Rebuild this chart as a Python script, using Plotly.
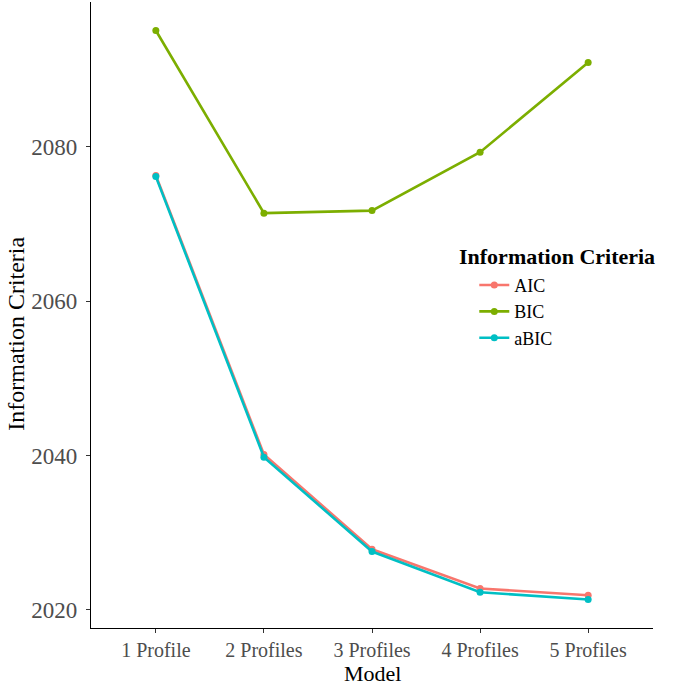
import plotly.graph_objects as go

models = ["1 Profile", "2 Profiles", "3 Profiles", "4 Profiles", "5 Profiles"]
aic = [2076.28, 2040.13, 2027.85, 2022.77, 2021.90]
bic = [2095.05, 2071.39, 2071.72, 2079.28, 2090.91]
abic = [2076.12, 2039.78, 2027.55, 2022.29, 2021.34]
series_names = ["AIC", "BIC", "aBIC"]
colors = ["#F8766D", "#7CAE00", "#00BFC4"]
y_ticks = [2020, 2040, 2060, 2080]

FONT = "Liberation Serif"
fig = go.Figure()
for name, vals, col in zip(series_names, [aic, bic, abic], colors):
    fig.add_trace(go.Scatter(
        x=models, y=vals, name=name, mode="lines+markers",
        line=dict(color=col, width=2.6),
        marker=dict(color=col, size=7),
    ))

# legend title
fig.add_annotation(
    text="<b>Information Criteria</b>", xref="paper", yref="paper",
    x=0.652, y=0.593, xanchor="left", yanchor="middle", showarrow=False,
    font=dict(family=FONT, size=22, color="black"),
)
# y-axis title
fig.add_annotation(
    text="Information Criteria", xref="paper", yref="paper",
    x=-0.1335, y=0.47, xanchor="center", yanchor="middle", showarrow=False,
    textangle=-90, font=dict(family=FONT, size=24, color="black"),
)
# x-axis title
fig.add_annotation(
    text="Model", xref="paper", yref="paper",
    x=0.5, y=-0.0733, xanchor="center", yanchor="middle", showarrow=False,
    font=dict(family=FONT, size=22, color="black"),
)

fig.update_layout(
    width=688, height=686,
    margin=dict(l=91, r=35, t=2, b=58, autoexpand=False),
    plot_bgcolor="white", paper_bgcolor="white",
    font=dict(family=FONT, size=18, color="black"),
    legend=dict(
        font=dict(family=FONT, size=18, color="black"),
        x=0.682, xanchor="left", y=0.577, yanchor="top",
        itemwidth=30, tracegroupgap=0, bgcolor="rgba(0,0,0,0)",
    ),
    xaxis=dict(
        range=[-0.6, 4.6], showline=True, linecolor="black", linewidth=1.2,
        ticks="outside", ticklen=4, tickcolor="#333333",
        tickfont=dict(family=FONT, size=20, color="#4D4D4D"),
        showgrid=False, zeroline=False, automargin=False,
    ),
    yaxis=dict(
        range=[2017.65, 2098.74], showline=True, linecolor="black", linewidth=1.2,
        ticks="outside", ticklen=4, tickcolor="#333333",
        tickvals=y_ticks, ticktext=[str(v) for v in y_ticks],
        tickfont=dict(family=FONT, size=23, color="#4D4D4D"),
        ticklabelstandoff=4,
        showgrid=False, zeroline=False, automargin=False,
    ),
)
fig.write_html("out.html", post_script="document.body.style.margin='0px';",
               config={"displayModeBar": False})
